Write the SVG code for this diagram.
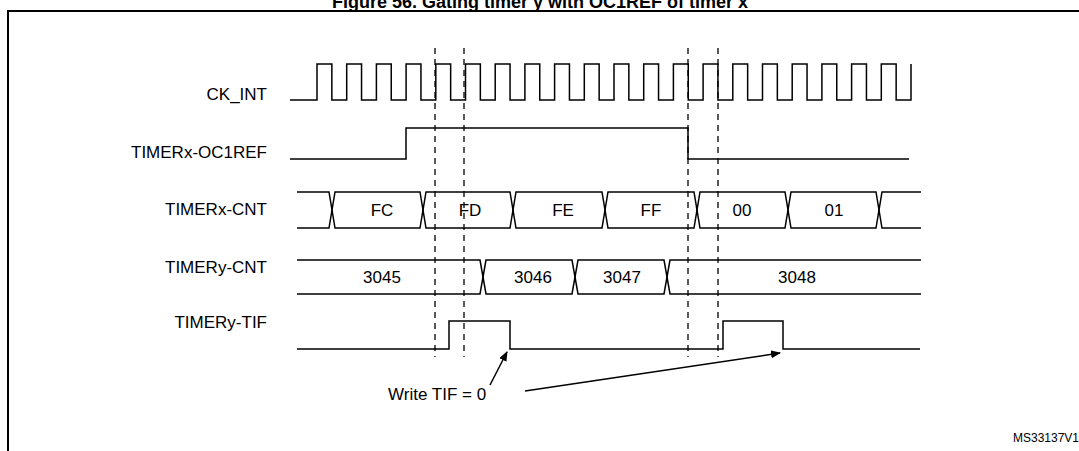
<svg xmlns="http://www.w3.org/2000/svg" width="1079" height="451" viewBox="0 0 1079 451">
<style>
.s{fill:none;stroke:#000;stroke-width:1.5}
.d{fill:none;stroke:#000;stroke-width:1.3;stroke-dasharray:6,5}
.t{font-family:"Liberation Sans",Arial,sans-serif;font-size:17px;fill:#000}
.r{text-anchor:end}
.c{text-anchor:middle}
</style>
<defs><marker id="a" markerWidth="10" markerHeight="8" refX="9" refY="4" orient="auto" markerUnits="userSpaceOnUse"><path d="M0,0 L10,4 L0,8 z" fill="#000"/></marker></defs>
<rect width="1079" height="451" fill="#fff"/>
<text class="t c" x="540" y="8" style="font-weight:bold;font-size:18px">Figure 56. Gating timer y with OC1REF of timer x</text>
<rect x="8" y="11" width="1080" height="450" fill="none" stroke="#000" stroke-width="2"/>
<g id="labels">
<text class="t r" x="267" y="100">CK_INT</text>
<text class="t r" x="267" y="158">TIMERx-OC1REF</text>
<text class="t r" x="267" y="215">TIMERx-CNT</text>
<text class="t r" x="267" y="273">TIMERy-CNT</text>
<text class="t r" x="267" y="328">TIMERy-TIF</text>
</g>
<g id="guides">
<line class="d" x1="435" y1="48" x2="435" y2="357"/>
<line class="d" x1="464" y1="48" x2="464" y2="357"/>
<line class="d" x1="688" y1="48" x2="688" y2="357"/>
<line class="d" x1="718" y1="48" x2="718" y2="357"/>
</g>
<g id="ck_int"><path class="s" d="M290,100 H317 V64 h14.85 V100 h14.85 V64 h14.85 V100 h14.85 V64 h14.85 V100 h14.85 V64 h14.85 V100 h14.85 V64 h14.85 V100 h14.85 V64 h14.85 V100 h14.85 V64 h14.85 V100 h14.85 V64 h14.85 V100 h14.85 V64 h14.85 V100 h14.85 V64 h14.85 V100 h14.85 V64 h14.85 V100 h14.85 V64 h14.85 V100 h14.85 V64 h14.85 V100 h14.85 V64 h14.85 V100 h14.85 V64 h14.85 V100 h14.85 V64 h14.85 V100 h14.85 V64 h14.85 V100 h14.85 V64 h14.85 V100 h14.85 V64 h14.85 V100 h14.85 V64 h14.85 V100 h14.85 V64"/></g>
<g id="oc1ref"><path class="s" d="M290,159 H406 V128 H688 V159 H909"/></g>
<g id="x_cnt">
<path class="s" d="M297,192 H329 L335,228 H420 L426,192 H510 L516,228 H602 L608,192 H694 L700,228 H785 L791,192 H876 L882,228 H921"/>
<path class="s" d="M297,228 H329 L335,192 H420 L426,228 H510 L516,192 H602 L608,228 H694 L700,192 H785 L791,228 H876 L882,192 H921"/>
<text class="t c" x="382" y="216">FC</text>
<text class="t c" x="470" y="216">FD</text>
<text class="t c" x="563" y="216">FE</text>
<text class="t c" x="651" y="216">FF</text>
<text class="t c" x="742" y="216">00</text>
<text class="t c" x="834" y="216">01</text>
</g>
<g id="y_cnt">
<path class="s" d="M297,260 H480 L486,294 H572 L578,260 H664 L670,294 H921"/>
<path class="s" d="M297,294 H480 L486,260 H572 L578,294 H664 L670,260 H921"/>
<text class="t c" x="382" y="283">3045</text>
<text class="t c" x="533" y="283">3046</text>
<text class="t c" x="622" y="283">3047</text>
<text class="t c" x="797" y="283">3048</text>
</g>
<g id="tif"><path class="s" d="M297,349 H449 V321 H510 V349 H723 V321 H783 V349 H920"/></g>
<g id="connectors">
<line class="s" x1="490" y1="385" x2="507" y2="352" marker-end="url(#a)" stroke-width="1.2"/>
<line class="s" x1="525" y1="391" x2="780" y2="353" marker-end="url(#a)" stroke-width="1.2"/>
</g>
<text class="t" x="388" y="400">Write TIF = 0</text>
<text class="t" x="1079" y="442" text-anchor="end" style="font-size:12px">MS33137V1</text>
</svg>
